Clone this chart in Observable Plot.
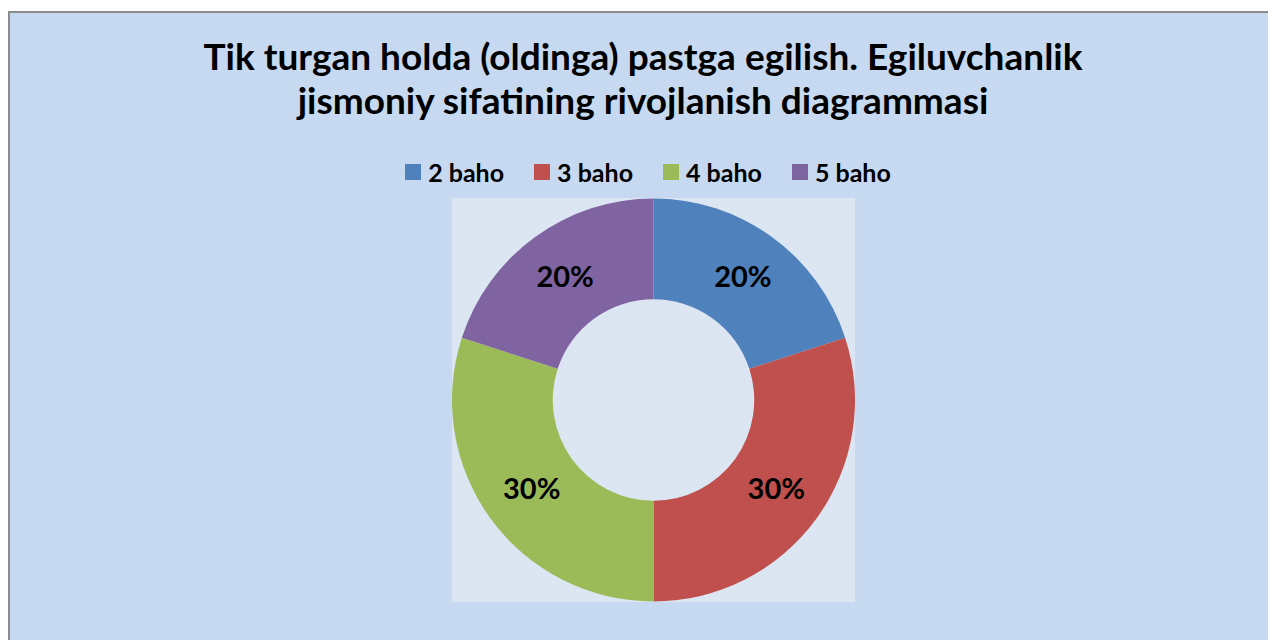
<!DOCTYPE html>
<html>
<head>
<meta charset="utf-8">
<script src="https://cdn.jsdelivr.net/npm/d3@7"></script>
<script src="https://cdn.jsdelivr.net/npm/@observablehq/plot@0.6"></script>
<style>
  html, body { margin: 0; padding: 0; background: #ffffff; width: 1268px; height: 640px; overflow: hidden; }
  #frame { position: absolute; left: 8px; top: 11px; width: 1300px; height: 700px; background: #c6d9f0; border-top: 2px solid #8c8c8c; border-left: 2px solid #8c8c8c; box-sizing: border-box; }
  #title { position: absolute; left: 0; width: 1286px; top: 34px; text-align: center; font-family: Lato, "Open Sans", sans-serif; font-weight: bold; font-size: 37px; line-height: 44px; color: #000; }
  #legend { position: absolute; left: 0; width: 1296px; top: 157px; display: flex; justify-content: center; }
  #chart { position: absolute; left: 452px; top: 198px; }
  .leg-swatches { margin: 0 !important; min-height: 0 !important; }
  .leg-swatches .leg-swatch { margin-right: 30px !important; }
  .leg-swatches .leg-swatch:last-child { margin-right: 0 !important; }
  .leg-swatches .leg-swatch > svg { margin-right: 7px !important; }
</style>
</head>
<body>
<div id="frame"></div>
<div id="title">Tik turgan holda (oldinga) pastga egilish. Egiluvchanlik<br>jismoniy sifatining rivojlanish diagrammasi</div>
<div id="legend"></div>
<div id="chart"></div>
<script>
const categories = ["2 baho", "3 baho", "4 baho", "5 baho"];
const values = [20, 30, 30, 20];
const labels = ["20%", "30%", "30%", "20%"];
const colors = ["#4f81bd", "#c0504d", "#9bbb59", "#8064a2"];

const data = categories.map((c, i) => ({category: c, value: values[i], label: labels[i]}));
const arcs = d3.pie().sort(null).value(d => d.value)(data);
const colorScale = d3.scaleOrdinal(categories, colors);
const innerRatio = 0.5;
const labelRatio = (1 + innerRatio) / 2;

const donutMark = (index, scales) => {
  const cx = scales.x(0), cy = scales.y(0);
  const R = Math.min(Math.abs(scales.x(1) - scales.x(0)), Math.abs(scales.y(0) - scales.y(1)));
  const arcGen = d3.arc().innerRadius(R * innerRatio).outerRadius(R);
  const g = d3.create("svg:g");
  g.selectAll("path").data(arcs).join("path")
    .attr("transform", `translate(${cx},${cy})`)
    .attr("d", arcGen)
    .attr("fill", d => colorScale(d.data.category));
  return g.node();
};

const chart = Plot.plot({
  width: 403,
  height: 404,
  margin: 0,
  x: {domain: [-1, 1], axis: null},
  y: {domain: [-1, 1], axis: null},
  style: {background: "#dce6f2", overflow: "visible"},
  marks: [
    donutMark,
    Plot.text(arcs, {
      x: d => labelRatio * Math.sin((d.startAngle + d.endAngle) / 2),
      y: d => labelRatio * Math.cos((d.startAngle + d.endAngle) / 2),
      text: d => d.data.label,
      fontSize: 29,
      fontWeight: "bold",
      fontFamily: "Lato, 'Open Sans', sans-serif",
      fill: "#000"
    })
  ]
});
document.getElementById("chart").appendChild(chart);

const legend = Plot.legend({
  color: {type: "categorical", domain: categories, range: colors},
  swatchSize: 16,
  className: "leg",
  style: {fontFamily: "Lato, 'Open Sans', sans-serif", fontSize: "25px", fontWeight: "bold", color: "#000"}
});
document.getElementById("legend").appendChild(legend);
</script>
</body>
</html>
